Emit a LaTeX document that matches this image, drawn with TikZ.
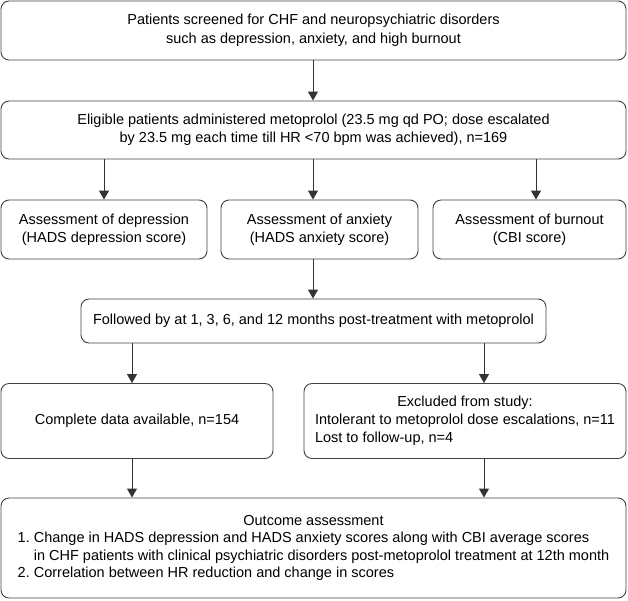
\documentclass[tikz,border=0pt]{standalone}
\usepackage{fontspec}
\setmainfont{Liberation Sans}
\usetikzlibrary{arrows.meta}
\tikzset{
  box/.style={draw=black!75, line width=0.9pt, rounded corners=8pt, inner sep=0pt,
    align=center, font=\fontsize{14.5}{17.5}\selectfont},
  wide/.style={font=\fontsize{14.5}{19}\selectfont},
  arr/.style={draw=black!80, line width=0.9pt, -{Triangle[length=9pt,width=10pt]}}
}
\begin{document}
\begin{tikzpicture}[x=1pt,y=-1pt]
\useasboundingbox (0,0) rectangle (628,600);
\node[box, wide, minimum width=625pt, minimum height=59pt] (b1) at (313.5,30.5)
  {Patients screened for CHF and neuropsychiatric disorders\\such as depression, anxiety, and high burnout};
\node[box, font=\fontsize{14.5}{18}\selectfont, minimum width=625pt, minimum height=58pt] (b2) at (313.5,130)
  {Eligible patients administered metoprolol (23.5 mg qd PO; dose escalated\\by 23.5 mg each time till HR <70 bpm was achieved), n=169};
\node[box, minimum width=206pt, minimum height=59pt] (a) at (104,229.5)
  {Assessment of depression\\(HADS depression score)};
\node[box, minimum width=197pt, minimum height=59pt] (bb) at (319.5,229.5)
  {Assessment of anxiety\\(HADS anxiety score)};
\node[box, minimum width=193pt, minimum height=59pt] (c) at (529.5,229.5)
  {Assessment of burnout\\(CBI score)};
\node[box, minimum width=465pt, minimum height=44pt] (f) at (313.5,321)
  {Followed by at 1, 3, 6, and 12 months post-treatment with metoprolol};
\node[box, minimum width=272pt, minimum height=75pt] (cd) at (137,421)
  {Complete data available, n=154};
\node[box, font=\fontsize{14.5}{18}\selectfont, minimum width=322pt, minimum height=75pt] (ex) at (465,421)
  {\begin{tabular}{@{}l@{}}\multicolumn{1}{@{}c@{}}{Excluded from study:}\\
   Intolerant to metoprolol dose escalations, n=11\\
   Lost to follow-up, n=4\end{tabular}};
\node[box, minimum width=625pt, minimum height=100pt] (out) at (313.5,548)
  {\begin{tabular}{@{}r@{\ }l@{}}\multicolumn{2}{@{}c@{}}{Outcome assessment}\\
   1. & Change in HADS depression and HADS anxiety scores along with CBI average scores\\
      & in CHF patients with clinical psychiatric disorders post-metoprolol treatment at 12th month\\
   2. & Correlation between HR reduction and change in scores\end{tabular}};
\coordinate (xa) at (104,0);
\coordinate (xm) at (313,0);
\coordinate (xc) at (536,0);
\coordinate (xl) at (132,0);
\coordinate (xr) at (484,0);
\draw[arr] (b1.south -| xm) -- (b2.north -| xm);
\draw[arr] (b2.south -| xa) -- (a.north -| xa);
\draw[arr] (b2.south -| xm) -- (bb.north -| xm);
\draw[arr] (b2.south -| xc) -- (c.north -| xc);
\draw[arr] (bb.south -| xm) -- (f.north -| xm);
\draw[arr] (f.south -| xl) -- (cd.north -| xl);
\draw[arr] (f.south -| xr) -- (ex.north -| xr);
\draw[arr] (cd.south -| xl) -- (out.north -| xl);
\draw[arr] (ex.south -| xr) -- (out.north -| xr);
\end{tikzpicture}
\end{document}
